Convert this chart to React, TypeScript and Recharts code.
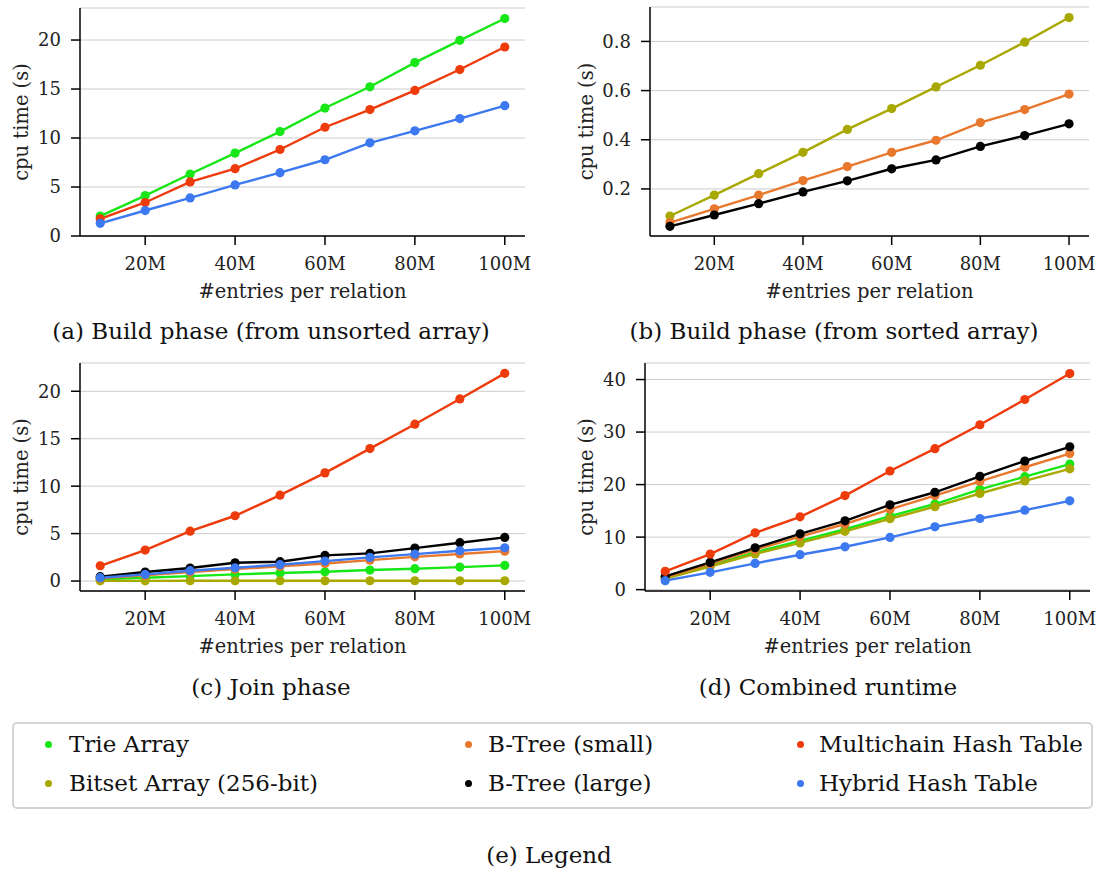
import { LineChart, Line, XAxis, YAxis, CartesianGrid } from 'recharts'

const entries = [10, 20, 30, 40, 50, 60, 70, 80, 90, 100]
const xTicks = [20, 40, 60, 80, 100]

// (a) build phase, unsorted input
const unsortedTrie = [2.03, 4.13, 6.33, 8.46, 10.66, 13.06, 15.23, 17.7, 19.97, 22.2]
const unsortedMultichain = [1.76, 3.42, 5.52, 6.87, 8.83, 11.1, 12.9, 14.86, 16.99, 19.29]
const unsortedHybrid = [1.29, 2.6, 3.89, 5.21, 6.46, 7.78, 9.51, 10.73, 11.98, 13.3]

// (b) build phase, sorted input
const sortedBitset = [0.09, 0.175, 0.262, 0.349, 0.442, 0.527, 0.615, 0.703, 0.797, 0.897]
const sortedBtreeSmall = [0.063, 0.119, 0.175, 0.234, 0.291, 0.349, 0.398, 0.47, 0.523, 0.586]
const sortedBtreeLarge = [0.048, 0.094, 0.14, 0.188, 0.233, 0.282, 0.318, 0.373, 0.417, 0.465]

// (c) join phase
const joinTrie = [0.17, 0.35, 0.52, 0.7, 0.85, 0.98, 1.16, 1.3, 1.47, 1.65]
const joinBitset = [0.02, 0.02, 0.03, 0.03, 0.03, 0.03, 0.03, 0.03, 0.03, 0.03]
const joinBtreeSmall = [0.3, 0.6, 0.95, 1.25, 1.55, 1.85, 2.2, 2.55, 2.85, 3.15]
const joinBtreeLarge = [0.46, 0.95, 1.37, 1.93, 2.04, 2.7, 2.91, 3.47, 4.04, 4.6]
const joinMultichain = [1.61, 3.26, 5.26, 6.88, 9.05, 11.4, 13.96, 16.53, 19.19, 21.89]
const joinHybrid = [0.35, 0.7, 1.09, 1.4, 1.72, 2.1, 2.49, 2.84, 3.19, 3.51]

// (d) combined runtime
const totalTrie = [2.2, 4.6, 7.1, 9.3, 11.5, 14.0, 16.3, 19.1, 21.5, 23.9]
const totalBitset = [2.1, 4.4, 6.8, 8.9, 11.1, 13.5, 15.8, 18.3, 20.7, 23.0]
const totalBtreeSmall = [2.4, 4.9, 7.6, 10.1, 12.5, 15.3, 17.9, 20.6, 23.3, 25.9]
const totalBtreeLarge = [2.53, 5.19, 7.97, 10.63, 13.1, 16.14, 18.54, 21.58, 24.49, 27.2]
const totalMultichain = [3.48, 6.77, 10.82, 13.86, 17.91, 22.59, 26.84, 31.39, 36.2, 41.14]
const totalHybrid = [1.71, 3.29, 5.0, 6.65, 8.16, 9.94, 11.96, 13.54, 15.13, 16.9]

const seriesKeys = ['trie', 'bitset', 'btreeSmall', 'btreeLarge', 'multichain', 'hybrid']
const seriesNames = ['Trie Array', 'Bitset Array (256-bit)', 'B-Tree (small)', 'B-Tree (large)', 'Multichain Hash Table', 'Hybrid Hash Table']
const seriesColors = ['#17e617', '#a8a800', '#e8782e', '#000000', '#ee3b0c', '#3c78f0']

const toRows = (cols: Record<string, number[]>) =>
  entries.map((n, i) => {
    const row: Record<string, number> = { n }
    for (const k of Object.keys(cols)) row[k] = cols[k][i]
    return row
  })

const dataA = toRows({ trie: unsortedTrie, multichain: unsortedMultichain, hybrid: unsortedHybrid })
const dataB = toRows({ bitset: sortedBitset, btreeSmall: sortedBtreeSmall, btreeLarge: sortedBtreeLarge })
const dataC = toRows({
  trie: joinTrie, bitset: joinBitset, btreeSmall: joinBtreeSmall,
  btreeLarge: joinBtreeLarge, multichain: joinMultichain, hybrid: joinHybrid,
})
const dataD = toRows({
  trie: totalTrie, bitset: totalBitset, btreeSmall: totalBtreeSmall,
  btreeLarge: totalBtreeLarge, multichain: totalMultichain, hybrid: totalHybrid,
})

const FONT = '"DejaVu Serif", serif'
const tickStyle = { fontFamily: FONT, fontSize: 18, fill: '#222' }
const labelStyle = { fontFamily: FONT, fontSize: 19.5, fill: '#222' }
const CHART_H = 310
const XAXIS_H = 74

interface PanelProps {
  left: number
  top: number
  width: number
  axisWidth: number
  marginTop: number
  marginRight: number
  data: Record<string, number>[]
  keys: string[]
  domain: [number, number]
  yTicks: number[]
  yFmt?: (v: number) => string
  yLabelX: number
}

function Panel({ left, top, width, axisWidth, marginTop, marginRight, data, keys, domain, yTicks, yFmt, yLabelX }: PanelProps) {
  const plotBottom = CHART_H - XAXIS_H
  const plotMidY = (marginTop + plotBottom) / 2
  const plotMidX = (axisWidth + width - marginRight) / 2
  return (
    <div style={{ position: 'absolute', left, top }}>
      <LineChart width={width} height={CHART_H} data={data} margin={{ top: marginTop, right: marginRight, left: 0, bottom: 0 }}>
        <CartesianGrid horizontal vertical={false} stroke="#cccccc" strokeWidth={1} />
        <XAxis
          dataKey="n"
          type="number"
          domain={[5.5, 104.5]}
          ticks={xTicks}
          tickFormatter={(v: number) => `${v}M`}
          height={XAXIS_H}
          tick={tickStyle}
          tickSize={9}
          tickMargin={12}
          stroke="#000"
          axisLine={{ stroke: '#000', strokeWidth: 1.5 }}
          tickLine={{ stroke: '#000', strokeWidth: 1.5 }}
          allowDataOverflow
          label={{
            content: () => (
              <text x={plotMidX} y={plotBottom + 55} textAnchor="middle" dominantBaseline="central" style={labelStyle}>
                #entries per relation
              </text>
            ),
          }}
        />
        <YAxis
          type="number"
          domain={domain}
          ticks={yTicks}
          tickFormatter={yFmt}
          width={axisWidth}
          tick={tickStyle}
          tickSize={9}
          tickMargin={10}
          stroke="#000"
          axisLine={{ stroke: '#000', strokeWidth: 1.5 }}
          tickLine={{ stroke: '#000', strokeWidth: 1.5 }}
          allowDataOverflow
          label={{
            content: () => (
              <text
                x={yLabelX}
                y={plotMidY}
                transform={`rotate(-90 ${yLabelX} ${plotMidY})`}
                textAnchor="middle"
                dominantBaseline="central"
                style={labelStyle}
              >
                cpu time (s)
              </text>
            ),
          }}
        />
        {keys.map((k) => {
          const c = seriesColors[seriesKeys.indexOf(k)]
          return (
            <Line
              key={k}
              dataKey={k}
              type="linear"
              stroke={c}
              strokeWidth={2.4}
              dot={{ r: 4.6, fill: c, stroke: c, strokeWidth: 0 }}
              isAnimationActive={false}
            />
          )
        })}
      </LineChart>
    </div>
  )
}

const captionStyle = {
  position: 'absolute' as const,
  fontFamily: FONT,
  fontSize: 23,
  color: '#111',
  whiteSpace: 'nowrap' as const,
  transform: 'translate(-50%, -50%)',
}

export default function App() {
  return (
    <div style={{ position: 'absolute', left: 0, top: 0, width: 1098, height: 874, background: '#fff', overflow: 'hidden' }}>
      <Panel left={0} top={0} width={545} axisWidth={80} marginTop={8} marginRight={20}
        data={dataA} keys={['trie', 'multichain', 'hybrid']} domain={[0, 23.27]} yTicks={[0, 5, 10, 15, 20]} yLabelX={21} />
      <Panel left={560} top={0} width={538} axisWidth={90} marginTop={7} marginRight={9}
        data={dataB} keys={['bitset', 'btreeSmall', 'btreeLarge']} domain={[0.0086, 0.94]} yTicks={[0.2, 0.4, 0.6, 0.8]}
        yFmt={(v: number) => v.toFixed(1)} yLabelX={26} />
      <Panel left={0} top={355} width={545} axisWidth={80} marginTop={8} marginRight={20}
        data={dataC} keys={seriesKeys} domain={[-1.05, 22.98]} yTicks={[0, 5, 10, 15, 20]} yLabelX={21} />
      <Panel left={560} top={355} width={538} axisWidth={85} marginTop={8} marginRight={8}
        data={dataD} keys={seriesKeys} domain={[-0.26, 43.15]} yTicks={[0, 10, 20, 30, 40]} yLabelX={26} />

      <div style={{ ...captionStyle, left: 271, top: 331 }}>(a) Build phase (from unsorted array)</div>
      <div style={{ ...captionStyle, left: 834, top: 331 }}>(b) Build phase (from sorted array)</div>
      <div style={{ ...captionStyle, left: 271, top: 687 }}>(c) Join phase</div>
      <div style={{ ...captionStyle, left: 828, top: 687 }}>(d) Combined runtime</div>

      <div style={{ position: 'absolute', left: 12, top: 722, width: 1077, height: 83, border: '2px solid #d4d4d4', borderRadius: 5 }} />
      {seriesNames.map((name, i) => {
        const col = Math.floor(i / 2)
        const row = i % 2
        const dotX = [48, 468, 800][col]
        const textX = [69, 488, 819][col]
        const y = [744, 783][row]
        return (
          <div key={name}>
            <div style={{ position: 'absolute', left: dotX - 3.5, top: y - 3.5, width: 7, height: 7, borderRadius: '50%', background: seriesColors[i] }} />
            <div style={{ position: 'absolute', left: textX, top: y, transform: 'translateY(-50%)', fontFamily: FONT, fontSize: 23, color: '#111', whiteSpace: 'nowrap' }}>
              {name}
            </div>
          </div>
        )
      })}
      <div style={{ ...captionStyle, left: 549, top: 855 }}>(e) Legend</div>
    </div>
  )
}
